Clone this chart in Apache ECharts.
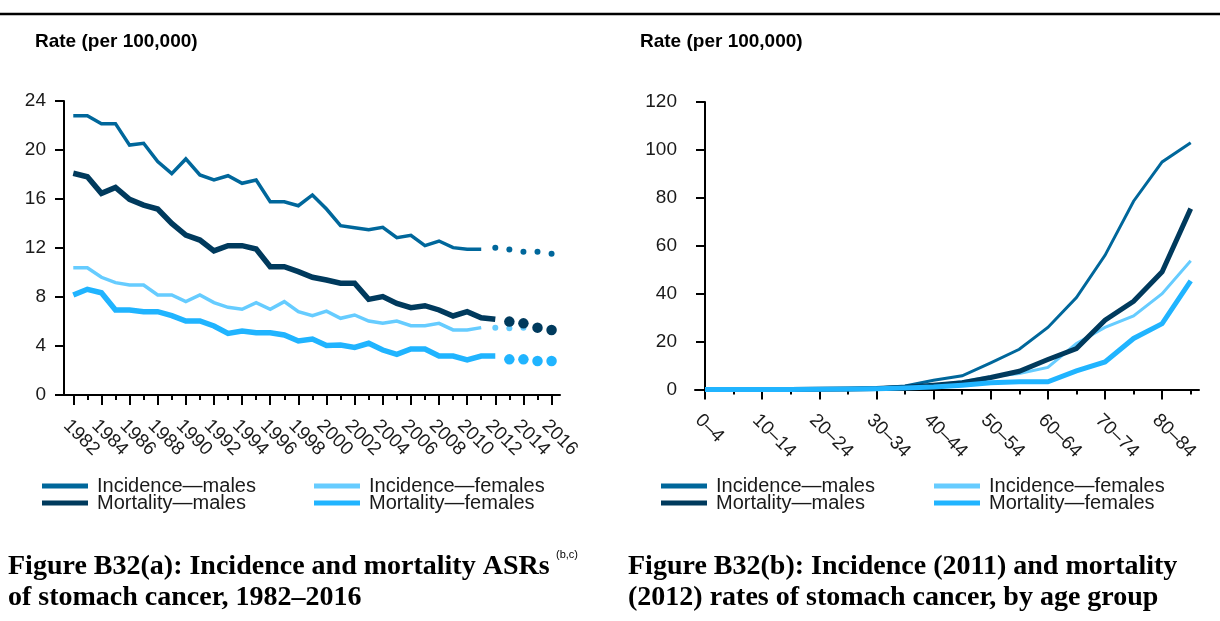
<!DOCTYPE html>
<html><head><meta charset="utf-8">
<script src="https://cdn.jsdelivr.net/npm/echarts@6/dist/echarts.min.js"></script>
<style>html,body{margin:0;padding:0;background:#fff}#c{width:1220px;height:621px}</style>
</head><body><div id="c"></div>
<script>
// ---- Figure (a): ASRs by year ----
const yearsInc = [1982,1983,1984,1985,1986,1987,1988,1989,1990,1991,1992,1993,1994,1995,1996,1997,1998,1999,2000,2001,2002,2003,2004,2005,2006,2007,2008,2009,2010,2011];
const yearsMort = [1982,1983,1984,1985,1986,1987,1988,1989,1990,1991,1992,1993,1994,1995,1996,1997,1998,1999,2000,2001,2002,2003,2004,2005,2006,2007,2008,2009,2010,2011,2012];
const projYearsInc = [2012,2013,2014,2015,2016];
const projYearsMort = [2013,2014,2015,2016];
const tickYears = [1982,1983,1984,1985,1986,1987,1988,1989,1990,1991,1992,1993,1994,1995,1996,1997,1998,1999,2000,2001,2002,2003,2004,2005,2006,2007,2008,2009,2010,2011,2012,2013,2014,2015,2016];
const labelYears = [1982,1984,1986,1988,1990,1992,1994,1996,1998,2000,2002,2004,2006,2008,2010,2012,2014,2016];

const incMales = [22.8,22.8,22.15,22.15,20.4,20.55,19.05,18.07,19.27,17.96,17.55,17.9,17.28,17.55,15.78,15.78,15.45,16.33,15.18,13.82,13.66,13.5,13.69,12.84,13.03,12.19,12.57,12.03,11.89,11.89];
const incMalesProj = [12.03,11.87,11.7,11.7,11.54];
const incFemales = [10.39,10.39,9.61,9.17,8.98,8.98,8.16,8.16,7.62,8.16,7.54,7.16,7.0,7.54,7.0,7.62,6.8,6.48,6.85,6.26,6.53,6.04,5.85,6.04,5.66,5.66,5.85,5.31,5.31,5.5];
const incFemalesProj = [5.5,5.44,5.5,5.5,5.45];
const mortMales = [18.1,17.82,16.46,16.95,15.97,15.5,15.18,14.01,13.06,12.65,11.76,12.19,12.19,11.92,10.47,10.47,10.07,9.61,9.39,9.12,9.12,7.81,8.03,7.48,7.13,7.29,6.94,6.45,6.8,6.31,6.18];
const mortMalesProj = [5.99,5.85,5.5,5.31];
const mortFemales = [8.16,8.63,8.35,6.94,6.94,6.8,6.8,6.48,6.04,6.04,5.63,5.03,5.22,5.08,5.08,4.9,4.41,4.57,4.04,4.08,3.89,4.22,3.67,3.32,3.76,3.76,3.18,3.18,2.86,3.18,3.18];
const mortFemalesProj = [2.91,2.91,2.77,2.77];

// ---- Figure (b): rates by age group ----
const ageGroups = ['0–4','5–9','10–14','15–19','20–24','25–29','30–34','35–39','40–44','45–49','50–54','55–59','60–64','65–69','70–74','75–79','80–84','85+'];
const ageIdx = [0,1,2,3,4,5,6,7,8,9,10,11,12,13,14,15,16,17];
const ageLabelIdx = [0,2,4,6,8,10,12,14,16];
const ageIncMales = [0.1,0.1,0.1,0.1,0.2,0.3,0.6,1.5,3.9,5.7,11.1,16.8,25.9,38.4,56.0,78.6,95.0,103.0];
const ageIncFemales = [0,0,0.1,0.1,0.2,0.4,0.6,1.0,1.8,3.2,5.3,6.7,9.2,19.2,25.9,30.7,40.0,53.7];
const ageMortMales = [0,0,0,0,0.1,0.2,0.4,0.9,1.8,2.8,5.0,7.6,12.5,17.1,28.9,36.8,49.1,75.5];
const ageMortFemales = [0,0,0,0,0.1,0.2,0.3,0.6,1.0,1.8,2.8,3.2,3.2,7.8,11.5,21.3,27.5,45.3];

const colors = {'Incidence—males':'#00679b','Incidence—females':'#66ccff','Mortality—males':'#003a5d','Mortality—females':'#20b4ff'};

const zip = (xs, ys) => xs.map((x, i) => [x, ys[i]]);
const FONT = '"Liberation Sans", Arial, sans-serif';
const TXT = '#1a1a1a';

function lineSeries(name, xs, ys, width, xi, yi) {
  return { name, type: 'line', xAxisIndex: xi, yAxisIndex: yi, data: zip(xs, ys),
    showSymbol: false, symbol: 'none', silent: true,
    lineStyle: { color: colors[name], width: width, join: 'miter' },
    itemStyle: { color: colors[name] } };
}
function dotSeries(name, xs, ys, size) {
  return { name: name + ' (projected)', type: 'scatter', xAxisIndex: 0, yAxisIndex: 0,
    data: zip(xs, ys), symbol: 'circle', symbolSize: size, silent: true,
    itemStyle: { color: colors[name], opacity: 1 } };
}

function xAxisPair(grid, min, max, ticks, labels, fmt) {
  return [
    { gridIndex: grid, type: 'value', position: 'bottom', min, max,
      axisLine: { show: true, lineStyle: { color: '#000', width: 2 } },
      axisTick: { show: true, customValues: ticks, length: 5, lineStyle: { color: '#000', width: 2 } },
      axisLabel: { show: true, customValues: labels, formatter: fmt, rotate: -45, align: 'left', verticalAlign: 'top',
        margin: 21, fontSize: 19, color: TXT, fontFamily: FONT },
      splitLine: { show: false } },
    { gridIndex: grid, type: 'value', position: 'bottom', min, max,
      axisLine: { show: false },
      axisTick: { show: true, customValues: labels, length: 10, lineStyle: { color: '#000', width: 2 } },
      axisLabel: { show: false }, splitLine: { show: false } }
  ];
}
function yAxis(grid, max, interval) {
  return { gridIndex: grid, type: 'value', min: 0, max, interval,
    axisLine: { show: true, lineStyle: { color: '#000', width: 2 } },
    axisTick: { show: true, length: 9, lineStyle: { color: '#000', width: 2 } },
    axisLabel: { margin: 18, fontSize: 19, color: TXT, fontFamily: FONT },
    splitLine: { show: false } };
}
function legend(name, left, top) {
  return { data: [name], left, top, orient: 'horizontal', padding: 0, itemGap: 0,
    icon: 'rect', itemWidth: 46, itemHeight: 5, selectedMode: false,
    textStyle: { fontSize: 20, color: TXT, fontFamily: FONT, padding: [0, 0, 0, 4], lineHeight: 20 } };
}

const CAP = 'bold 28px "Liberation Serif", serif';
const chart = echarts.init(document.getElementById('c'), null, { renderer: 'canvas' });
chart.setOption({
  animation: false,
  backgroundColor: '#fff',
  textStyle: { fontFamily: FONT },
  grid: [
    { left: 64, top: 101, width: 496, height: 294 },
    { left: 695, top: 102, width: 504, height: 287.5 }
  ],
  xAxis: [
    ...xAxisPair(0, 1981.34, 2016.6, tickYears, labelYears, v => String(v)),
    ...xAxisPair(1, -0.35, 17.29, ageIdx, ageLabelIdx, v => ageGroups[v])
  ],
  yAxis: [ yAxis(0, 24, 4), yAxis(1, 120, 20) ],
  legend: [
    legend('Incidence—males', 42, 476),
    legend('Incidence—females', 314, 476),
    legend('Mortality—males', 42, 493),
    legend('Mortality—females', 314, 493),
    legend('Incidence—males', 661, 476),
    legend('Incidence—females', 934, 476),
    legend('Mortality—males', 661, 493),
    legend('Mortality—females', 934, 493)
  ],
  graphic: [
    { type: 'line', shape: { x1: 0, y1: 14, x2: 1220, y2: 14 }, style: { stroke: '#000', lineWidth: 2.5 } },
    { type: 'text', left: 35, top: 32, style: { text: 'Rate (per 100,000)', font: 'bold 19px "Liberation Sans", Arial, sans-serif', fill: '#000' } },
    { type: 'text', left: 640, top: 32, style: { text: 'Rate (per 100,000)', font: 'bold 19px "Liberation Sans", Arial, sans-serif', fill: '#000' } },
    { type: 'text', left: 8, top: 553, style: { text: 'Figure B32(a): Incidence and mortality ASRs', font: CAP, fill: '#000' } },
    { type: 'text', left: 556, top: 549, style: { text: '(b,c)', font: '11px "Liberation Sans", Arial, sans-serif', fill: '#000' } },
    { type: 'text', left: 8, top: 584, style: { text: 'of stomach cancer, 1982–2016', font: CAP, fill: '#000' } },
    { type: 'text', left: 628, top: 553, style: { text: 'Figure B32(b): Incidence (2011) and mortality', font: CAP, fill: '#000' } },
    { type: 'text', left: 628, top: 584, style: { text: '(2012) rates of stomach cancer, by age group', font: CAP, fill: '#000' } }
  ],
  series: [
    lineSeries('Incidence—males', yearsInc, incMales, 3.5, 0, 0),
    lineSeries('Incidence—females', yearsInc, incFemales, 3.5, 0, 0),
    lineSeries('Mortality—males', yearsMort, mortMales, 5.5, 0, 0),
    lineSeries('Mortality—females', yearsMort, mortFemales, 5.5, 0, 0),
    dotSeries('Incidence—males', projYearsInc, incMalesProj, 6),
    dotSeries('Incidence—females', projYearsInc, incFemalesProj, 6),
    dotSeries('Mortality—males', projYearsMort, mortMalesProj, 10.5),
    dotSeries('Mortality—females', projYearsMort, mortFemalesProj, 10.5),
    lineSeries('Incidence—males', ageIdx, ageIncMales, 3, 2, 1),
    lineSeries('Incidence—females', ageIdx, ageIncFemales, 3, 2, 1),
    lineSeries('Mortality—males', ageIdx, ageMortMales, 5, 2, 1),
    lineSeries('Mortality—females', ageIdx, ageMortFemales, 5, 2, 1)
  ]
});
</script>
</body></html>
